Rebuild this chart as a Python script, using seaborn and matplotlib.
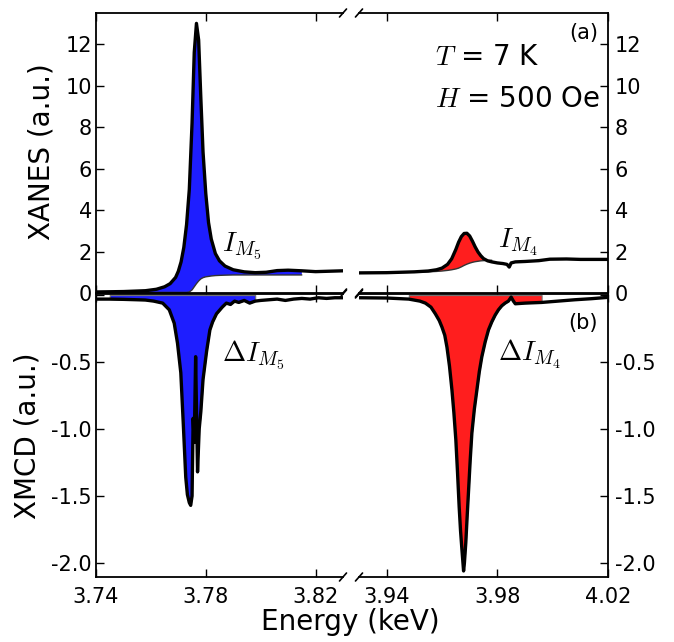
import numpy as np
import pandas as pd
import matplotlib
matplotlib.use("Agg")
import matplotlib.pyplot as plt
import seaborn as sns

# ---------------- data ----------------
# M5 edge, XANES (panel a, left)
e_m5 = [3.740, 3.750, 3.758, 3.762, 3.765, 3.767, 3.769, 3.770, 3.771, 3.772,
        3.773, 3.774, 3.775, 3.7758, 3.7766, 3.7774, 3.7782, 3.779, 3.780, 3.781,
        3.782, 3.7835, 3.785, 3.787, 3.790, 3.794, 3.798, 3.802, 3.806, 3.810,
        3.815, 3.820, 3.825, 3.830]
xanes_m5 = [0.05, 0.07, 0.11, 0.18, 0.30, 0.45, 0.75, 1.05, 1.5, 2.2,
            3.3, 5.0, 8.2, 11.6, 13.0, 12.2, 9.4, 6.8, 4.8, 3.4,
            2.6, 1.9, 1.55, 1.3, 1.12, 1.02, 0.98, 1.0, 1.08, 1.1,
            1.07, 1.03, 1.05, 1.07]
step_m5 = [0.03, 0.03, 0.03, 0.03, 0.03, 0.03, 0.03, 0.03, 0.03, 0.03,
           0.03, 0.05, 0.15, 0.30, 0.45, 0.58, 0.68, 0.74, 0.78, 0.80,
           0.82, 0.84, 0.85, 0.86, 0.87, 0.87, 0.87, 0.87, 0.87, 0.87,
           0.87, np.nan, np.nan, np.nan]

# M4 edge, XANES (panel a, right)
e_m4 = [3.930, 3.940, 3.950, 3.955, 3.958, 3.960, 3.962, 3.9635, 3.965, 3.966,
        3.967, 3.968, 3.969, 3.970, 3.971, 3.972, 3.973, 3.974, 3.975, 3.9765,
        3.978, 3.980, 3.982, 3.9835, 3.9843, 3.985, 3.9865, 3.990, 3.995, 3.999,
        4.005, 4.010, 4.015, 4.020]
xanes_m4 = [0.97, 0.98, 1.02, 1.06, 1.12, 1.2, 1.38, 1.65, 2.1, 2.45,
            2.72, 2.87, 2.88, 2.75, 2.5, 2.22, 1.98, 1.8, 1.66, 1.55,
            1.5, 1.45, 1.42, 1.38, 1.25, 1.45, 1.5, 1.52, 1.56, 1.63,
            1.64, 1.62, 1.62, 1.62]
step_m4 = [0.97, 0.98, 1.0, 1.02, 1.04, 1.06, 1.09, 1.12, 1.16, 1.2,
           1.26, 1.33, 1.39, 1.44, 1.48, 1.51, 1.53, 1.55, 1.56, 1.57,
           1.58, np.nan, np.nan, np.nan, np.nan, np.nan, np.nan, np.nan, np.nan, np.nan,
           np.nan, np.nan, np.nan, np.nan]

# M5 edge, XMCD (panel b, left)
e_d5 = [3.740, 3.745, 3.750, 3.755, 3.758, 3.761, 3.7643, 3.7667, 3.7685, 3.7697,
        3.7709, 3.7718, 3.7727, 3.7733, 3.7740, 3.7745, 3.7750, 3.7754, 3.7758, 3.7763,
        3.7770, 3.7776, 3.7782, 3.7790, 3.7803, 3.7815, 3.7825, 3.7839, 3.7860, 3.7875,
        3.7890, 3.7905, 3.792, 3.794, 3.796, 3.798, 3.800, 3.803, 3.806, 3.809,
        3.812, 3.815, 3.818, 3.821, 3.824, 3.827, 3.830]
xmcd_m5 = [-0.03, -0.03, -0.032, -0.035, -0.037, -0.045, -0.06, -0.11, -0.21, -0.36,
           -0.58, -0.96, -1.36, -1.49, -1.55, -1.57, -1.50, -0.92, -1.10, -0.46,
           -1.32, -1.00, -0.87, -0.63, -0.42, -0.26, -0.20, -0.14, -0.09, -0.06,
           -0.07, -0.045, -0.055, -0.04, -0.06, -0.045, -0.04, -0.035, -0.03, -0.04,
           -0.03, -0.025, -0.03, -0.02, -0.025, -0.02, -0.02]

# M4 edge, XMCD (panel b, right)
e_d4 = [3.930, 3.940, 3.948, 3.952, 3.954, 3.956, 3.9576, 3.959, 3.960, 3.961,
        3.9618, 3.9627, 3.9636, 3.9643, 3.9650, 3.9656, 3.9662, 3.9667, 3.9672, 3.9675,
        3.9678, 3.9681, 3.9686, 3.9691, 3.9696, 3.9702, 3.9708, 3.9717, 3.9726, 3.9735,
        3.9744, 3.9756, 3.9768, 3.978, 3.9792, 3.9804, 3.9816, 3.9828, 3.984, 3.9845,
        3.985, 3.9858, 3.9865, 3.990, 3.996, 4.002, 4.008, 4.014, 4.020]
xmcd_m4 = [-0.02, -0.022, -0.03, -0.045, -0.06, -0.09, -0.14, -0.19, -0.24, -0.30,
           -0.39, -0.53, -0.71, -0.88, -1.08, -1.32, -1.58, -1.76, -1.90, -1.98,
           -2.06, -2.00, -1.85, -1.65, -1.46, -1.23, -1.03, -0.85, -0.71, -0.57,
           -0.46, -0.35, -0.26, -0.20, -0.15, -0.11, -0.08, -0.06, -0.045, -0.03,
           -0.015, -0.045, -0.065, -0.06, -0.055, -0.045, -0.035, -0.027, -0.017]

xt_left = [3.74, 3.78, 3.82]
xt_right = [3.94, 3.98, 4.02]
yt_top = [0, 2, 4, 6, 8, 10, 12]
yt_top_lbl = ["0", "2", "4", "6", "8", "10", "12"]
yt_bot = [0, -0.5, -1.0, -1.5, -2.0]
yt_bot_lbl = ["", "-0.5", "-1.0", "-1.5", "-2.0"]

# ---------------- style ----------------
sns.set_style("ticks")
plt.rcParams["font.family"] = ["DejaVu Sans"]
plt.rcParams["mathtext.fontset"] = "cm"
plt.rcParams["axes.unicode_minus"] = False
plt.rcParams["text.color"] = "black"
plt.rcParams["axes.labelcolor"] = "black"
plt.rcParams["xtick.color"] = "black"
plt.rcParams["ytick.color"] = "black"

W, H = 674, 642
fig = plt.figure(figsize=(W / 100, H / 100), dpi=100)


def ax_at(x0, x1, y0, y1):
    return fig.add_axes([x0 / W, 1 - y1 / H, (x1 - x0) / W, (y1 - y0) / H])


LX0, LX1, RX0, RX1 = 96, 343, 359, 608
TY0, TY1, BY0, BY1 = 13, 293, 294, 577

ax_tl = ax_at(LX0, LX1, TY0, TY1)
ax_tr = ax_at(RX0, RX1, TY0, TY1)
ax_bl = ax_at(LX0, LX1, BY0, BY1)
ax_br = ax_at(RX0, RX1, BY0, BY1)

BLUE = "#1e1eff"
RED = "#ff1e1e"
LW = 2.4


def draw_xanes(ax, e, y, step, color):
    e = np.asarray(e); y = np.asarray(y); s = np.asarray(step, dtype=float)
    ok = ~np.isnan(s)
    ax.fill_between(e[ok], s[ok], y[ok], where=(y[ok] >= s[ok]), interpolate=True,
                    facecolor=color, edgecolor="none", zorder=1)
    sdf = pd.DataFrame({"E": e[ok], "v": s[ok]})
    sns.lineplot(data=sdf, x="E", y="v", ax=ax, color="0.2", lw=1.0,
                 estimator=None, sort=False, zorder=2)
    df = pd.DataFrame({"E": e, "v": y})
    sns.lineplot(data=df, x="E", y="v", ax=ax, color="black", lw=LW,
                 estimator=None, sort=False, zorder=3)


def draw_xmcd(ax, e, y, color, e_lo, e_hi):
    e = np.asarray(e); y = np.asarray(y)
    m = (e >= e_lo) & (e <= e_hi)
    ax.fill_between(e[m], 0, y[m], facecolor=color, edgecolor="0.45", lw=0.8, zorder=1)
    df = pd.DataFrame({"E": e, "v": y})
    sns.lineplot(data=df, x="E", y="v", ax=ax, color="black", lw=LW,
                 estimator=None, sort=False, zorder=3)


draw_xanes(ax_tl, e_m5, xanes_m5, step_m5, BLUE)
draw_xanes(ax_tr, e_m4, xanes_m4, step_m4, RED)
draw_xmcd(ax_bl, e_d5, xmcd_m5, BLUE, 3.745, 3.799)
draw_xmcd(ax_br, e_d4, xmcd_m4, RED, 3.948, 3.998)

for ax in (ax_tl, ax_bl):
    ax.set_xlim(3.74, 3.83)
    ax.set_xticks(xt_left)
for ax in (ax_tr, ax_br):
    ax.set_xlim(3.93, 4.02)
    ax.set_xticks(xt_right)
for ax in (ax_tl, ax_tr):
    ax.set_ylim(0, 13.5)
    ax.set_yticks(yt_top)
    ax.set_yticklabels(yt_top_lbl)
    ax.tick_params(axis="x", labelbottom=False)
for ax in (ax_bl, ax_br):
    ax.set_ylim(-2.105, 0.008)
    ax.set_yticks(yt_bot)
    ax.set_yticklabels(yt_bot_lbl)
ax_bl.set_xticklabels(["3.74", "3.78", "3.82"])
ax_br.set_xticklabels(["3.94", "3.98", "4.02"])

for ax in (ax_tl, ax_tr, ax_bl, ax_br):
    ax.set_xlabel("")
    ax.set_ylabel("")
    for sp in ax.spines.values():
        sp.set_linewidth(1.3)
        sp.set_color("black")
    ax.tick_params(direction="in", length=6, width=1, labelsize=15, colors="black",
                   top=True, bottom=True)
    ax.tick_params(axis="x", pad=7)

for ax in (ax_tl, ax_bl):
    ax.spines["right"].set_visible(False)
    ax.tick_params(axis="y", left=True, right=False, labelleft=True, labelright=False, pad=3)
for ax in (ax_tr, ax_br):
    ax.spines["left"].set_visible(False)
    ax.tick_params(axis="y", left=False, right=True, labelleft=False, labelright=True, pad=5)

# break marks
def slash(ax, xa, ya, wpx, hpx):
    dx = 3.5 / wpx
    dy = 4.0 / hpx
    ax.plot([xa - dx, xa + dx], [ya - dy, ya + dy], transform=ax.transAxes,
            color="black", lw=1.2, clip_on=False, zorder=5)

for ax, xa in ((ax_tl, 1), (ax_tr, 0)):
    slash(ax, xa, 1, LX1 - LX0, TY1 - TY0)
    slash(ax, xa, 0, LX1 - LX0, TY1 - TY0)
for ax, xa in ((ax_bl, 1), (ax_br, 0)):
    slash(ax, xa, 1, LX1 - LX0, BY1 - BY0)
    slash(ax, xa, 0, LX1 - LX0, BY1 - BY0)


def ftext(px, py, s, **kw):
    fig.text(px / W, 1 - py / H, s, color="black", **kw)


ftext(42, 152, "XANES (a.u.)", rotation=90, ha="center", va="center", fontsize=20)
ftext(27.5, 436, "XMCD (a.u.)", rotation=90, ha="center", va="center", fontsize=20)
ftext(350, 622, "Energy (keV)", ha="center", va="center", fontsize=20)

ftext(598, 33, "(a)", ha="right", va="center", fontsize=15)
ftext(598, 323, "(b)", ha="right", va="center", fontsize=15)
ftext(435, 65, "$T$ = 7 K", ha="left", va="baseline", fontsize=20)
ftext(435, 107, "$H$ = 500 Oe", ha="left", va="baseline", fontsize=20)

ftext(222, 251, "$I_{M_5}$", ha="left", va="baseline", fontsize=20)
ftext(498, 248, "$I_{M_4}$", ha="left", va="baseline", fontsize=20)
ftext(222, 361, r"$\Delta I_{M_5}$", ha="left", va="baseline", fontsize=20)
ftext(498, 361, r"$\Delta I_{M_4}$", ha="left", va="baseline", fontsize=20)

fig.savefig("out.png", dpi=100)
